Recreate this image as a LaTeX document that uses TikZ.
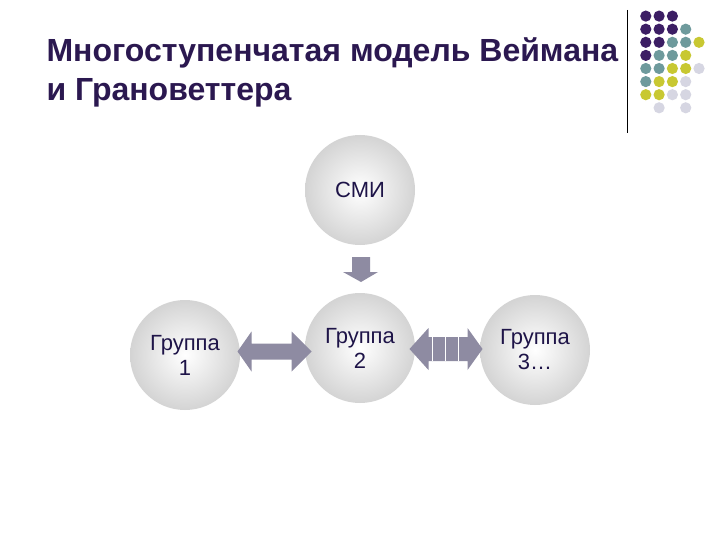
\documentclass[tikz,border=0pt]{standalone}
\usepackage{fontspec}
\setmainfont{Liberation Sans}
\usetikzlibrary{calc}
\definecolor{titlecol}{HTML}{2B1850}
\definecolor{textcol}{HTML}{1E1448}
\definecolor{arrowcol}{HTML}{8E8BA2}
\definecolor{dotP}{HTML}{3C1E64}
\definecolor{dotT}{HTML}{6E9A9C}
\definecolor{dotY}{HTML}{C8C832}
\definecolor{dotL}{HTML}{D6D6E2}
\begin{document}
\begin{tikzpicture}[x=1pt,y=-1pt,
  groupball/.style={circle,minimum size=110pt,inner sep=0pt,shade,inner color=white,outer color=black!17,
    text=textcol,align=center,font=\fontsize{22}{25}\selectfont},
  arrowfill/.style={fill=arrowcol}]
\useasboundingbox[fill=white] (0,0) rectangle (720,540);

\node[anchor=base west,align=left,text=titlecol,font=\bfseries\fontsize{32}{39}\selectfont] (title) at (43,101)
{Многоступенчатая модель Веймана\\и Грановеттера};
\draw[black,line width=1pt] (627,10)--(627,133);

\foreach \c/\r/\col in {1/1/dotP,2/1/dotP,3/1/dotP,
  1/2/dotP,2/2/dotP,3/2/dotP,4/2/dotT,
  1/3/dotP,2/3/dotP,3/3/dotT,4/3/dotT,5/3/dotY,
  1/4/dotP,2/4/dotT,3/4/dotT,4/4/dotY,
  1/5/dotT,2/5/dotT,3/5/dotY,4/5/dotY,5/5/dotL,
  1/6/dotT,2/6/dotY,3/6/dotY,4/6/dotL,
  1/7/dotY,2/7/dotY,3/7/dotL,4/7/dotL,
  2/8/dotL,4/8/dotL}
  \fill[\col] ({632.5+13.3*\c},{3+13.1*\r}) circle (5.6);

\node[groupball] (smi) at (360,190) {СМИ};
\node[groupball] (g1) at (185,355) {Группа\\1};
\node[groupball] (g2) at (360,348) {Группа\\2};
\node[groupball] (g3) at (535,350) {Группа\\3…};

\coordinate (m12) at ($(g1.east)!0.5!(g2.west)$);
\coordinate (m23) at ($(g2.east)!0.5!(g3.west)$);
\coordinate (m02) at ($(smi.south)!0.5!(g2.north)$);

\fill[arrowfill,shift={(m12)}] (-35,0)--(-21,-20)--(-21,-8)--(19,-8)--(19,-20)--(39,0)
  --(19,20)--(19,8)--(-21,8)--(-21,20)--cycle;
\fill[arrowfill,shift={(m23)}] (-38,0)--(-19,-21)--(-19,-12)--(20,-12)--(20,-21)--(35,0)
  --(20,21)--(20,12)--(-19,12)--(-19,21)--cycle;
\foreach \s in {-15,-2,11}
  \draw[white,line width=1.5pt,shift={(m23)}] (\s,-12)--(\s,12);
\fill[arrowfill,shift={(m02)}] (-8,-12)--(10,-12)--(10,3)--(18,3)--(1,13)--(-17,3)--(-8,3)--cycle;

\end{tikzpicture}
\end{document}
